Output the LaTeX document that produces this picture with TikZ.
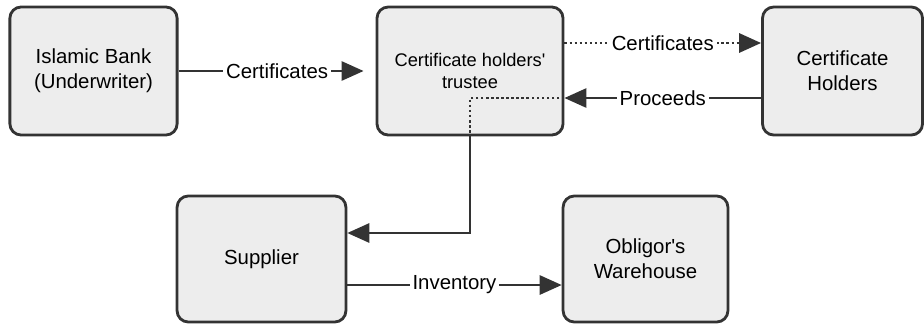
\documentclass[tikz,border=0pt]{standalone}
\usepackage{fontspec}
\setmainfont{Liberation Sans}
\usetikzlibrary{arrows.meta}

\begin{document}
\begin{tikzpicture}[x=0.025cm,y=-0.025cm,line width=1.6pt,draw=black!80]
    \tikzstyle{box}=[rectangle,rounded corners=8pt,draw=black!80,line width=2pt,fill=black!7,minimum height=3.2cm,align=center,font=\fontsize{14.5}{18}\selectfont]
    \tikzstyle{lbl}=[fill=white,inner sep=2pt,font=\fontsize{14.5}{18}\selectfont]
    \tikzstyle{flow}=[-{Triangle[length=0.55cm,width=0.48cm]}]
    \tikzstyle{dots}=[line width=1.8pt,dash pattern=on 1.8pt off 1.8pt]
    \useasboundingbox (0,0) rectangle (924,324);

    % top row
    \node[box,minimum width=4.18cm] (bank) at (93.5,71) {Islamic Bank\\(Underwriter)};
    \node[box,minimum width=4.65cm,font=\fontsize{13}{16}\selectfont] (trustee) at (470,71) {Certificate holders\textquotesingle\\trustee};
    \node[box,minimum width=4cm] (holders) at (842.5,71) {Certificate\\Holders};
    % bottom row
    \node[box,minimum width=4.22cm,minimum height=3.15cm] (supplier) at (261.5,259) {Supplier};
    \node[box,minimum width=4.12cm,minimum height=3.15cm] (warehouse) at (645.5,259) {Obligor\textquotesingle s\\Warehouse};

    \draw[flow,shorten >=0.3cm] (bank) -- node[lbl] {Certificates} (trustee);
    \draw[flow,dots] ([yshift=0.7cm]trustee.east) -- node[lbl] {Certificates} ([yshift=0.7cm]holders.west);
    \draw[flow] ([yshift=-0.675cm]holders.west) -- node[lbl] {Proceeds} ([yshift=-0.675cm]trustee.east);
    \draw[dots] ([yshift=-0.675cm]trustee.east) -| (trustee.south);
    \draw[flow] (trustee.south) |- ([yshift=0.65cm]supplier.east);
    \draw[flow] ([yshift=-0.65cm]supplier.east) -- node[lbl] {Inventory} ([yshift=-0.65cm]warehouse.west);
\end{tikzpicture}
\end{document}
